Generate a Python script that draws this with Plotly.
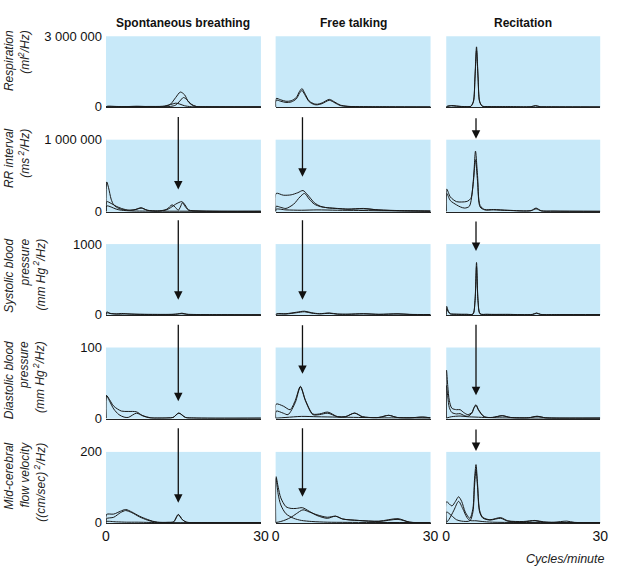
import plotly.graph_objects as go

# ---------------- data (x in cycles/minute, y in panel units) ----------------
col_titles = ["Spontaneous breathing", "Free talking", "Recitation"]
row_titles = [
    "<i>Respiration<br>(ml<sup>2</sup>/Hz)</i>",
    "<i>RR interval<br>(ms<sup> 2</sup>/Hz)</i>",
    "<i>Systolic blood<br>pressure<br>(mm Hg<sup> 2</sup>/Hz)</i>",
    "<i>Diastolic blood<br>pressure<br>(mm Hg<sup> 2</sup>/Hz)</i>",
    "<i>Mid-cerebral<br>flow velocity<br>((cm/sec)<sup> 2</sup>/Hz)</i>",
]
row_ymax = [3000000, 1000000, 1000, 100, 200]
row_ytext = ["3 000 000", "1 000 000", "1000", "100", "200"]
x_ticks = [0, 30]
arrow_x = [14.0, 5.2, 5.8]

resp_spont = [
    ([0, 0.3, 2, 4, 6, 8, 10, 11.5, 12.5, 13.5, 14.4, 15.2, 16, 17, 18, 22, 30],
     [0, 30e3, 20e3, 15e3, 30e3, 15e3, 10e3, 20e3, 120e3, 400e3, 630e3, 520e3, 200e3, 40e3, 10e3, 5e3, 0]),
    ([0, 5, 10, 12.5, 13.5, 14.3, 15, 15.7, 16.5, 17.5, 20, 30],
     [0, 10e3, 5e3, 20e3, 80e3, 250e3, 400e3, 300e3, 120e3, 20e3, 5e3, 0]),
    ([0, 8, 11, 12.5, 13.5, 14.3, 15.2, 16.5, 20, 30],
     [0, 20e3, 30e3, 100e3, 160e3, 120e3, 50e3, 10e3, 0, 0]),
]
resp_talk = [
    ([0, 0.1, 1, 2, 3, 4, 4.6, 5.1, 5.6, 6.5, 7.5, 8.1, 9, 10.4, 11.5, 12.5, 14, 17, 22, 30],
     [0, 360e3, 300e3, 240e3, 260e3, 400e3, 650e3, 780e3, 600e3, 250e3, 130e3, 115e3, 170e3, 320e3, 200e3, 80e3, 25e3, 10e3, 5e3, 0]),
    ([0, 0.1, 1, 2, 3, 4, 4.6, 5.1, 5.6, 6.5, 7.5, 8.1, 9, 10.4, 11.5, 12.5, 14, 17, 22, 30],
     [0, 290e3, 240e3, 190e3, 210e3, 340e3, 570e3, 700e3, 540e3, 220e3, 100e3, 90e3, 140e3, 280e3, 170e3, 60e3, 20e3, 8e3, 3e3, 0]),
]
resp_recit = [
    ([0, 0.2, 1, 2, 3, 4, 4.8, 5.3, 5.6, 5.9, 6.2, 6.5, 7, 8, 12, 16.5, 17.4, 18.3, 20, 30],
     [0, 30e3, 60e3, 40e3, 20e3, 15e3, 30e3, 250e3, 1.3e6, 2.55e6, 1.3e6, 250e3, 40e3, 15e3, 10e3, 10e3, 55e3, 10e3, 5e3, 0]),
    ([0, 0.2, 1, 2, 3, 4, 4.8, 5.3, 5.6, 5.9, 6.2, 6.5, 7, 8, 12, 16.5, 17.4, 18.3, 20, 30],
     [0, 20e3, 45e3, 30e3, 15e3, 12e3, 25e3, 220e3, 1.2e6, 2.4e6, 1.2e6, 220e3, 35e3, 12e3, 8e3, 8e3, 45e3, 8e3, 3e3, 0]),
]
rr_spont = [
    ([0, 0.15, 0.5, 1, 1.5, 2.5, 4, 5.5, 6.8, 8, 10, 11.5, 12.5, 13.5, 14.7, 15.3, 16, 18, 30],
     [0, 410e3, 330e3, 170e3, 90e3, 40e3, 15e3, 20e3, 50e3, 15e3, 5e3, 15e3, 50e3, 100e3, 135e3, 90e3, 20e3, 5e3, 0]),
    ([0, 0.15, 1, 2, 3, 4.5, 6, 6.8, 8, 10, 11.8, 12.8, 13.5, 14, 14.4, 14.8, 15.3, 16, 18, 30],
     [0, 135e3, 110e3, 70e3, 40e3, 15e3, 30e3, 45e3, 15e3, 3e3, 30e3, 90e3, 50e3, 15e3, 60e3, 120e3, 70e3, 15e3, 3e3, 0]),
    ([0, 0.15, 1, 2, 3, 5, 7, 10, 30],
     [0, 75e3, 60e3, 30e3, 15e3, 5e3, 3e3, 2e3, 0]),
]
rr_talk = [
    ([0, 0.1, 1.5, 3, 4.3, 5.3, 6.2, 7.5, 8.7, 10, 12, 14, 17, 20, 24, 28, 30],
     [0, 250e3, 225e3, 230e3, 260e3, 290e3, 230e3, 120e3, 70e3, 50e3, 40e3, 30e3, 35e3, 20e3, 10e3, 5e3, 3e3]),
    ([0, 0.1, 1, 2, 3.5, 4.7, 5.6, 6.5, 7.5, 8.7, 10, 12, 14, 17, 20, 24, 28, 30],
     [0, 70e3, 55e3, 40e3, 100e3, 200e3, 250e3, 170e3, 100e3, 65e3, 50e3, 38e3, 30e3, 40e3, 18e3, 8e3, 4e3, 2e3]),
    ([0, 0.1, 2, 5, 8, 12, 16, 20, 25, 30],
     [0, 30e3, 20e3, 15e3, 20e3, 15e3, 12e3, 8e3, 5e3, 2e3]),
]
rr_recit = [
    ([0, 0.1, 0.8, 2, 3, 4.1, 4.8, 5.3, 5.7, 6.1, 6.6, 7.5, 9.2, 12, 16.5, 17.5, 18.5, 21, 30],
     [0, 310e3, 200e3, 135e3, 130e3, 140e3, 180e3, 450e3, 840e3, 500e3, 80e3, 25e3, 25e3, 15e3, 10e3, 45e3, 8e3, 3e3, 0]),
    ([0, 0.1, 0.8, 2, 2.8, 3.6, 4.5, 5.2, 5.7, 6.1, 6.6, 7.5, 9.2, 12, 16.5, 17.5, 18.5, 21, 30],
     [0, 250e3, 150e3, 90e3, 60e3, 45e3, 70e3, 350e3, 720e3, 420e3, 60e3, 20e3, 20e3, 12e3, 8e3, 35e3, 6e3, 2e3, 0]),
]
sys_spont = [
    ([0, 0.15, 0.8, 2, 3, 4.5, 6, 8, 10, 12, 13.8, 14.7, 15.6, 17, 20, 30],
     [0, 40, 20, 12, 18, 10, 8, 6, 5, 5, 10, 22, 8, 4, 2, 0]),
    ([0, 0.15, 1, 2.5, 4, 6, 9, 13, 14.7, 16, 20, 30],
     [0, 25, 15, 8, 12, 5, 3, 4, 15, 3, 1, 0]),
]
sys_talk = [
    ([0, 0.3, 2, 4, 5.6, 7, 8.5, 10.4, 12, 14, 17, 20, 23.7, 26, 30],
     [0, 15, 15, 35, 50, 28, 15, 25, 10, 8, 15, 6, 14, 5, 3]),
    ([0, 0.3, 2, 4, 5.6, 7, 8.5, 10.4, 12, 14, 17, 20, 23.7, 26, 30],
     [0, 10, 10, 28, 42, 22, 12, 20, 8, 6, 12, 5, 10, 4, 2]),
]
sys_recit = [
    ([0, 0.08, 0.4, 0.8, 2, 4, 5.2, 5.6, 5.9, 6.2, 6.6, 8, 12, 16.8, 17.6, 18.4, 22, 30],
     [0, 120, 50, 15, 8, 6, 10, 200, 740, 200, 15, 6, 5, 5, 25, 5, 3, 2]),
    ([0, 0.08, 0.4, 0.8, 2, 4, 5.2, 5.6, 5.9, 6.2, 6.6, 8, 12, 16.8, 17.6, 18.4, 22, 30],
     [0, 90, 40, 12, 6, 5, 8, 180, 680, 180, 12, 5, 4, 4, 20, 4, 2, 1]),
]
dia_spont = [
    ([0, 0.1, 0.7, 1.5, 3, 4.3, 5.9, 7, 8.7, 10, 12, 13, 14.1, 15.4, 17, 30],
     [0, 32, 26, 17, 10, 9.5, 9, 4, 0.5, 0.3, 0.3, 1, 7.3, 1, 0.2, 0]),
    ([0, 0.1, 0.7, 1.5, 2.5, 3.5, 4.3, 5.9, 7.2, 8.5, 12, 13, 14.1, 15.4, 17, 30],
     [0, 32, 24, 13, 5, 1.5, 1, 7, 3, 0.3, 0.3, 1, 7, 1, 0.2, 0]),
]
dia_talk = [
    ([0, 0.1, 1.5, 2.8, 3.8, 4.8, 5.8, 7.2, 8.5, 10.1, 12, 13.5, 15.3, 16.8, 18, 20, 21.9, 23.5, 26, 28.5, 30],
     [0, 20, 17, 12, 25, 45, 25, 6, 6, 8.6, 2, 2, 7.3, 2, 1, 1, 4, 1, 0.5, 1.5, 0.5]),
    ([0, 0.1, 1.5, 2.4, 3.8, 4.8, 5.8, 7.2, 8.5, 10.1, 12, 13.5, 15.3, 16.8, 18, 20, 21.9, 23.5, 26, 28.5, 30],
     [0, 10, 7, 5, 22, 44, 24, 5, 5, 7, 2, 2, 7, 2, 1, 1, 4, 1, 0.5, 1.5, 0.5]),
    ([0, 2, 5, 8, 12, 16, 20, 25, 30],
     [0, 1, 2.5, 2, 1.5, 1, 0.5, 0.3, 0]),
]
dia_recit = [
    ([0, 0.05, 0.3, 0.6, 1.1, 2, 2.7, 3.4, 4.2, 5, 5.4, 5.8, 6.3, 7.4, 9, 10.9, 12.5, 16, 17.7, 19.3, 21, 30],
     [0, 68, 45, 25, 14, 12, 12, 8, 5, 8, 15, 19, 12, 2, 1, 3.6, 1, 0.5, 2.7, 0.5, 0, 0]),
    ([0, 0.05, 0.3, 0.6, 1.1, 2, 2.7, 3.4, 4.2, 5, 5.4, 5.8, 6.3, 7.4, 9, 10.9, 12.5, 16, 17.7, 19.3, 21, 30],
     [0, 46, 30, 15, 8, 6, 6.4, 4, 2.7, 7, 14, 18, 11, 2, 1, 3.3, 1, 0.5, 2.5, 0.5, 0, 0]),
    ([0, 1, 2.7, 4.2, 5.8, 8, 12, 30],
     [0, 2, 3, 2, 1.5, 0.8, 0.3, 0]),
]
mca_spont = [
    ([0, 0.1, 1.5, 2.8, 3.8, 5, 6.5, 8, 9, 10, 12, 13.1, 14, 14.8, 15.6, 17, 30],
     [0, 23, 24, 32, 37, 30, 18, 9, 4, 1, 0.5, 2, 23, 8, 1, 0, 0]),
    ([0, 0.1, 1.5, 2.8, 3.8, 5, 6.5, 8, 9, 10, 12, 13.1, 14, 14.8, 15.6, 17, 30],
     [0, 11, 15, 28, 34, 28, 16, 7, 3, 0.5, 0.5, 2, 22, 8, 1, 0, 0]),
    ([0, 0.1, 2, 4, 6, 10, 30],
     [0, 3, 2, 1, 1, 0, 0]),
]
mca_talk = [
    ([0, 0.08, 0.5, 1, 2, 3, 4, 5.2, 6.5, 8, 10, 11.6, 13, 16, 20, 23.7, 26, 30],
     [0, 130, 100, 70, 45, 40, 40, 42, 32, 20, 12, 18, 10, 6, 4, 11, 1, 0]),
    ([0, 0.08, 0.5, 1, 2, 3.5, 5, 7, 10, 14, 30],
     [0, 125, 80, 50, 25, 12, 6, 3, 1, 0.5, 0]),
    ([0, 1, 2, 3, 4, 5.3, 6.5, 8, 10, 11.6, 13, 16, 20, 23.7, 26, 30],
     [0, 3, 8, 15, 25, 36, 30, 22, 15, 18, 10, 6, 3, 9, 1, 0]),
]
mca_recit = [
    ([0, 0.05, 1.1, 1.8, 2.4, 3, 3.7, 4.6, 5.2, 5.5, 5.8, 6.1, 6.5, 7.1, 8.5, 10.6, 12, 15, 17.3, 19, 21, 23.5, 25, 30],
     [0, 59, 47, 60, 73, 60, 30, 12, 40, 120, 164, 110, 35, 15, 8, 14, 5, 3, 6, 2, 1, 4, 0.5, 0]),
    ([0, 0.05, 1, 2, 3, 4.6, 5.2, 5.5, 5.8, 6.1, 6.5, 7.1, 8.5, 10.6, 12, 15, 17.3, 19, 30],
     [0, 30, 20, 8, 4, 5, 30, 100, 150, 100, 30, 13, 7, 12, 4, 2, 5, 1, 0]),
    ([0, 0.5, 1.5, 2.4, 3.2, 4, 4.6, 5.8, 7, 9, 30],
     [0, 8, 35, 60, 40, 15, 6, 5, 3, 1, 0]),
]

panels = [
    [resp_spont, resp_talk, resp_recit],
    [rr_spont, rr_talk, rr_recit],
    [sys_spont, sys_talk, sys_recit],
    [dia_spont, dia_talk, dia_recit],
    [mca_spont, mca_talk, mca_recit],
]

# ---------------- layout geometry (pixels) ----------------
W, H = 618, 575
col_px = [(104, 262), (277, 435), (451, 608)]
row_px = [(30, 103), (136, 210), (243, 316), (349, 422), (456, 529)]
label_top_px = [22, 122, 236, 341, 444]
# arrows: tip y pixel per column/row (rows 2..5), tail y pixel per row
arrow_tip_px = [[187, 300, 404, 508], [174, 300, 376, 502], [135, 250, 398, 455]]
arrow_tail_px = [113, 219, 326, 432]

FONT = "Liberation Sans, Arial, sans-serif"
BG = "#c8e9f9"

fig = go.Figure()
layout = dict(
    width=W, height=H, margin=dict(l=0, r=0, t=0, b=0),
    paper_bgcolor="white", plot_bgcolor=BG, showlegend=False,
    font=dict(family=FONT, size=13, color="#111"),
)
annotations = []

for r in range(5):
    for c in range(3):
        k = r * 3 + c + 1
        sfx = "" if k == 1 else str(k)
        ymax = row_ymax[r]
        for xs, ys in panels[r][c]:
            fig.add_trace(go.Scatter(
                x=xs, y=ys, mode="lines",
                line=dict(color="#1a1a1a", width=1, shape="spline", smoothing=0.8),
                xaxis="x" + sfx, yaxis="y" + sfx, hoverinfo="skip",
            ))
        x0, x1 = col_px[c]
        t, b = row_px[r]
        layout["xaxis" + sfx] = dict(
            domain=[x0 / W, x1 / W], range=[0, 30], anchor="y" + sfx,
            showgrid=False, zeroline=False, showline=True, linecolor="#222", linewidth=1,
            ticks="", tickvals=x_ticks, ticktext=[str(v) for v in x_ticks],
            showticklabels=(r == 4), tickfont=dict(size=14, family=FONT, color="#111"),
        )
        layout["yaxis" + sfx] = dict(
            domain=[(H - b) / H, (H - t) / H], range=[-0.008 * ymax, ymax], anchor="x" + sfx,
            showgrid=False, zeroline=False, showline=False, ticks="",
            tickvals=[0, ymax], ticktext=["0", row_ytext[r]], ticklabelstandoff=3,
            showticklabels=(c == 0), tickfont=dict(size=13, family=FONT, color="#111"),
        )
        # arrows
        if r >= 1:
            tip = arrow_tip_px[c][r - 1]
            tail = arrow_tail_px[r - 1]
            annotations.append(dict(
                x=arrow_x[c], y=(b - tip) / (b - t), xref="x" + sfx, yref="y" + sfx + " domain",
                ax=0, ay=tail - tip, axref="pixel", ayref="pixel", text="",
                showarrow=True, arrowhead=2, arrowsize=1.3, arrowwidth=1.3, arrowcolor="#111",
                standoff=0, startstandoff=0,
            ))

for c in range(3):
    x0, x1 = col_px[c]
    annotations.append(dict(
        x=(x0 + x1) / 2 / W, y=(H - 16) / H, xref="paper", yref="paper",
        text="<b>" + col_titles[c] + "</b>", showarrow=False,
        xanchor="center", yanchor="middle", font=dict(size=12, family=FONT, color="#111"),
    ))

for r in range(5):
    annotations.append(dict(
        x=-4 / W, y=(H - label_top_px[r]) / H, xref="paper", yref="paper",
        text=row_titles[r], showarrow=False, textangle=-90, align="right",
        xanchor="left", yanchor="top", font=dict(size=12, family=FONT, color="#222"),
    ))

annotations.append(dict(
    x=615 / W, y=(H - 566) / H, xref="paper", yref="paper",
    text="<i>Cycles/minute</i>", showarrow=False, xanchor="right", yanchor="middle",
    font=dict(size=12.5, family=FONT, color="#222"),
))

layout["annotations"] = annotations
fig.update_layout(**layout)
fig.write_html("out.html")
